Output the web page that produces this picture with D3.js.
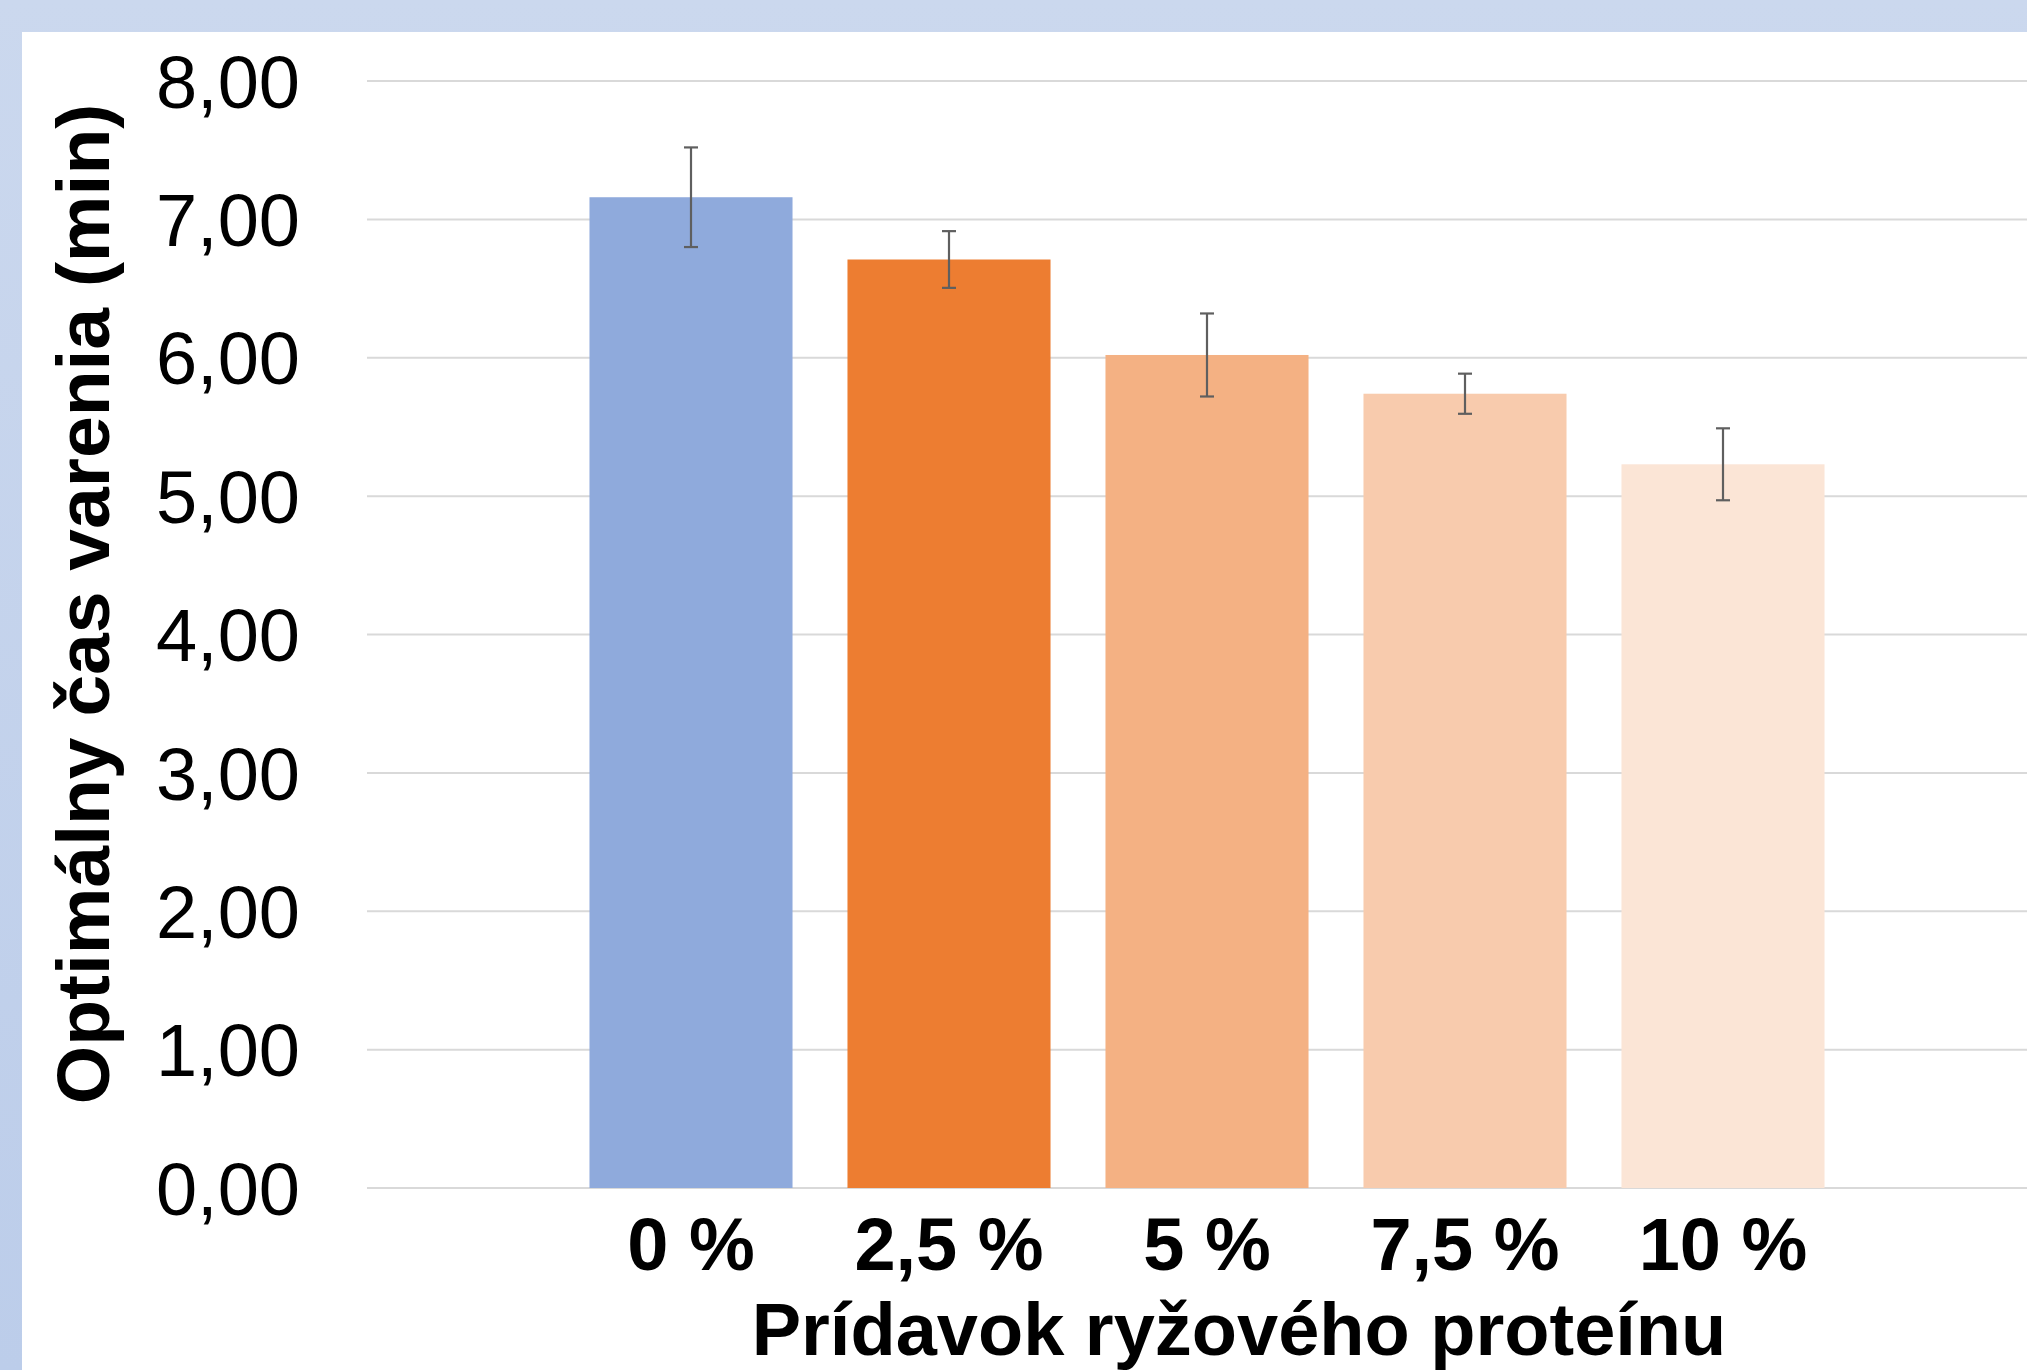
<!DOCTYPE html>
<html>
<head>
<meta charset="utf-8">
<script src="https://cdn.jsdelivr.net/npm/d3@7"></script>
<style>
  html, body { margin: 0; padding: 0; }
  body { width: 2027px; height: 1370px; overflow: hidden; }
  text { font-family: "Liberation Sans", Arial, sans-serif; fill: #000; }
</style>
</head>
<body>
<svg id="chart" width="2027" height="1370"></svg>
<script>
// data
var categories = ["0 %", "2,5 %", "5 %", "7,5 %", "10 %"];
var values = [7.16, 6.71, 6.02, 5.74, 5.23];
var errors = [0.36, 0.205, 0.30, 0.145, 0.26];
var colors = ["#8faadc", "#ed7d31", "#f4b183", "#f8cbad", "#fbe5d6"];
var yTicks = [0, 1, 2, 3, 4, 5, 6, 7, 8];

var svg = d3.select("#chart"),
	width = +svg.attr("width"),
	height = +svg.attr("height");

// light blue slide background with white panel
var defs = svg.append("defs");
var grad = defs.append("linearGradient").attr("id", "bg").attr("x1", 0).attr("y1", 0).attr("x2", 0).attr("y2", 1);
grad.append("stop").attr("offset", "0%").attr("stop-color", "#cbd8ee");
grad.append("stop").attr("offset", "100%").attr("stop-color", "#bccdea");
svg.append("rect").attr("width", width).attr("height", height).attr("fill", "url(#bg)");
svg.append("rect").attr("x", 22).attr("y", 32).attr("width", width - 22).attr("height", height - 32).attr("fill", "#fff");

var gridLeft = 367;

var y = d3.scaleLinear()
	.domain([0, 8])
	.range([1188, 81]);

var x = d3.scaleBand()
	.domain(categories)
	.range([562, 1852])
	.paddingInner(0.213)
	.paddingOuter(0.1065);

// gridlines
svg.append("g").selectAll("line")
	.data(yTicks)
	.enter().append("line")
	.attr("x1", gridLeft)
	.attr("x2", width)
	.attr("y1", function(d) { return y(d); })
	.attr("y2", function(d) { return y(d); })
	.attr("stroke", "#d9d9d9")
	.attr("stroke-width", 2);

// y tick labels
svg.append("g").selectAll("text")
	.data(yTicks)
	.enter().append("text")
	.attr("x", 300)
	.attr("y", function(d) { return y(d); })
	.attr("dy", "0.36em")
	.attr("text-anchor", "end")
	.style("font-size", "74px")
	.text(function(d) { return d3.format(".2f")(d).replace(".", ","); });

// bars
svg.append("g").selectAll("rect")
	.data(values)
	.enter().append("rect")
	.attr("x", function(d, i) { return x(categories[i]); })
	.attr("y", function(d) { return y(d); })
	.attr("width", x.bandwidth())
	.attr("height", function(d) { return y(0) - y(d); })
	.attr("fill", function(d, i) { return colors[i]; });

// error bars
var eb = svg.append("g").attr("stroke", "#5f5f5f").attr("stroke-width", 2.2);
values.forEach(function(v, i) {
	var cx = x(categories[i]) + x.bandwidth() / 2;
	var top = y(v + errors[i]), bot = y(v - errors[i]);
	eb.append("line").attr("x1", cx).attr("x2", cx).attr("y1", top).attr("y2", bot);
	eb.append("line").attr("x1", cx - 7).attr("x2", cx + 7).attr("y1", top).attr("y2", top);
	eb.append("line").attr("x1", cx - 7).attr("x2", cx + 7).attr("y1", bot).attr("y2", bot);
});

// x tick labels
svg.append("g").selectAll("text")
	.data(categories)
	.enter().append("text")
	.attr("x", function(d) { return x(d) + x.bandwidth() / 2; })
	.attr("y", 1270)
	.attr("text-anchor", "middle")
	.style("font-size", "74px")
	.style("font-weight", "bold")
	.text(function(d) { return d; });

// axis titles
svg.append("text")
	.attr("x", 1239)
	.attr("y", 1355)
	.attr("text-anchor", "middle")
	.style("font-size", "74px")
	.style("font-weight", "bold")
	.text("Prídavok ryžového proteínu");

svg.append("text")
	.attr("transform", "translate(109,604) rotate(-90)")
	.attr("text-anchor", "middle")
	.style("font-size", "75px")
	.style("font-weight", "bold")
	.text("Optimálny čas varenia (min)");
</script>
</body>
</html>
